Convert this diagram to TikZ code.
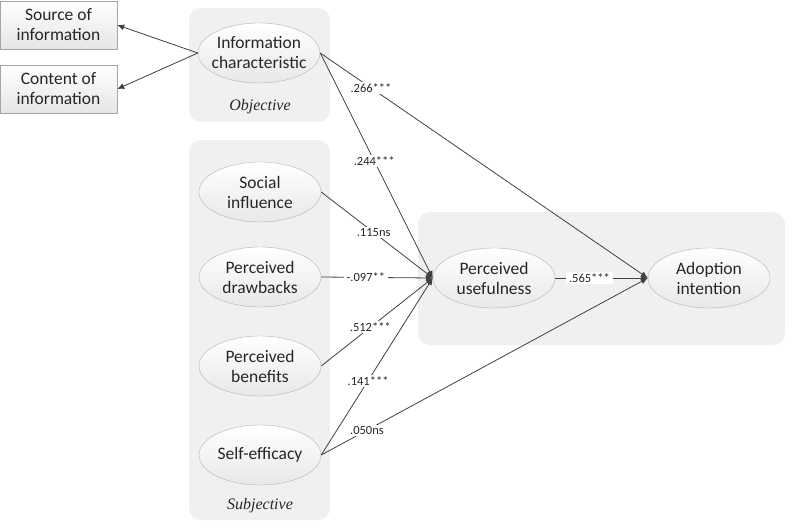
\documentclass[tikz,border=0pt]{standalone}
\usepackage{fontspec}
\setmainfont{Carlito}
\newfontfamily\groupfont{Liberation Serif}
\usetikzlibrary{shapes.geometric,arrows.meta}
\begin{document}
\begin{tikzpicture}[x=1pt,y=-1pt,
    construct/.style={ellipse,draw=black!30,top color=white,bottom color=black!9,
      minimum width=122pt,minimum height=60pt,inner xsep=-12pt,inner ysep=0pt,align=center,
      text=black!85,font=\fontsize{17.5}{20}\selectfont},
    itembox/.style={rectangle,draw=black!35,top color=white,bottom color=black!10,
      minimum width=117pt,minimum height=48pt,inner sep=0pt,align=center,
      text=black!85,font=\fontsize{17.5}{20}\selectfont},
    group/.style={fill=black!6,rounded corners=12pt},
    grouplabel/.style={text=black!85,font=\groupfont\itshape\fontsize{16}{18}\selectfont},
    coef/.style={fill=white,inner xsep=3pt,inner ysep=1.5pt,text=black!85,font=\fontsize{12.5}{14}\selectfont},
    link/.style={draw=black!75,line width=0.8pt,-{Latex[length=7pt,width=6pt]}}]
  \useasboundingbox (0,0) rectangle (800,528);
  % grey groups
  \fill[group] (189,8) rectangle (330,122);
  \fill[group] (189,140) rectangle (330,520);
  \fill[group] (418,212) rectangle (785,345);
  \node[grouplabel] (obj) at (260,107) {Objective};
  \node[grouplabel] (subj) at (260,506) {Subjective};
  % constructs
  \node[itembox] (src) at (58.5,25) {Source of\\information};
  \node[itembox] (cnt) at (58.5,89) {Content of\\information};
  \node[construct] (ic) at (259,53) {Information\\characteristic};
  \node[construct] (si) at (260,192) {Social\\influence};
  \node[construct] (pd) at (260,277) {Perceived\\drawbacks};
  \node[construct] (pb) at (260,366) {Perceived\\benefits};
  \node[construct] (se) at (260,455) {Self-efficacy};
  \node[construct] (pu) at (494,278) {Perceived\\usefulness};
  \node[construct] (ai) at (709,278) {Adoption\\intention};
  % paths
  \begin{scope}[link]
    \draw (ic.west) -- (src.east);
    \draw (ic.west) -- (cnt.east);
    \draw (ic.east) -- node[coef,pos=0.155]{.266***} (ai.west);
    \draw (ic.east) -- node[coef,pos=0.48]{.244***} (pu.west);
    \draw (si.east) -- node[coef,pos=0.47]{.115ns} (pu.west);
    \draw (pd.east) -- node[coef,pos=0.4]{-.097**} (pu.west);
    \draw (pb.east) -- node[coef,pos=0.44]{.512***} (pu.west);
    \draw (se.east) -- node[coef,pos=0.42]{.141***} (pu.west);
    \draw (se.east) -- node[coef,pos=0.14]{.050ns} (ai.west);
    \draw (pu.east) -- node[coef,pos=0.37]{.565***} (ai.west);
  \end{scope}
\end{tikzpicture}
\end{document}
